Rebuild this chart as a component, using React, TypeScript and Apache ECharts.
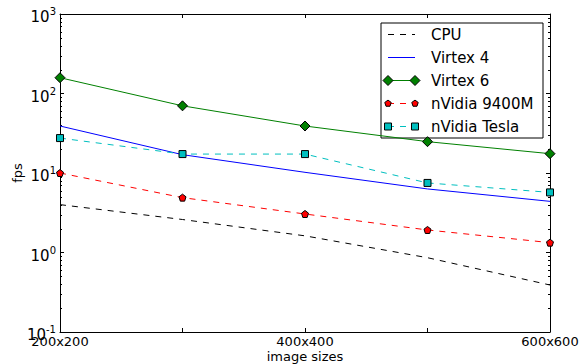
import React, { useEffect, useRef } from "react";
import * as echarts from "echarts";

const categories = ["200x200", "300x300", "400x400", "500x500", "600x600"];
const seriesNames = ["CPU", "Virtex 4", "Virtex 6", "nVidia 9400M", "nVidia Tesla"];
const cpu = [4.0, 2.6, 1.62, 0.86, 0.39];
const virtex4 = [39, 17, 10.2, 6.3, 4.4];
const virtex6 = [158, 70, 39, 24.8, 17.5];
const nvidia9400m = [10, 4.9, 3.05, 1.92, 1.33];
const nvidiaTesla = [27.5, 17.3, 17.3, 7.5, 5.7];
const decades = [0.1, 1, 10, 100];
const minorMultipliers = [2, 3, 4, 5, 6, 7, 8, 9];

const FONT = "DejaVu Sans";
const PENTAGON = "path://M0,-1 L0.951,-0.309 L0.588,0.809 L-0.588,0.809 L-0.951,-0.309 Z";

const colors = ["#000000", "#0000ff", "#008000", "#ff0000", "#00bfbf"];
const dashed = [true, false, false, true, true];

function legendMarker(i: number, cx: number, cy: number): any {
  const st = { fill: colors[i], stroke: "#000", lineWidth: 1 };
  if (i === 2) {
    const r = 5;
    return { type: "polygon", shape: { points: [[cx, cy - r], [cx + r, cy], [cx, cy + r], [cx - r, cy]] }, style: st };
  }
  if (i === 3) {
    const r = 3.4;
    const pts = [0, 1, 2, 3, 4].map((k) => {
      const a = -Math.PI / 2 + (k * 2 * Math.PI) / 5;
      return [cx + r * Math.cos(a), cy + r * Math.sin(a)];
    });
    return { type: "polygon", shape: { points: pts }, style: st };
  }
  if (i === 4) {
    return { type: "rect", shape: { x: cx - 3.5, y: cy - 3.5, width: 7, height: 7 }, style: st };
  }
  return null;
}

export default function App() {
  const ref = useRef<HTMLDivElement>(null);
  useEffect(() => {
    if (!ref.current) return;
    const chart = echarts.init(ref.current, null, { renderer: "svg" });
    const minorVals: number[] = [];
    decades.forEach((d) => minorMultipliers.forEach((m) => minorVals.push(m * d)));

    const legendChildren: any[] = [
      { type: "rect", shape: { x: 381, y: 23, width: 162, height: 115 }, style: { fill: "#fff", stroke: "#000", lineWidth: 1 } },
    ];
    seriesNames.forEach((name, i) => {
      const cy = 34.5 + i * 23;
      legendChildren.push({
        type: "line",
        shape: { x1: 388, y1: cy, x2: 415, y2: cy },
        style: { stroke: colors[i], lineWidth: 1, lineDash: dashed[i] ? [6, 6] : null },
      });
      const m1 = legendMarker(i, 388, cy);
      const m2 = legendMarker(i, 415, cy);
      if (m1) legendChildren.push(m1, m2);
      legendChildren.push({
        type: "text",
        x: 431,
        y: cy,
        style: { text: name, font: `15px "${FONT}"`, fill: "#000", verticalAlign: "middle", align: "left" },
      });
    });

    const lineSeries = (name: string, data: number[], i: number, symbol: string, size: number | number[]) => ({
      name,
      type: "line",
      data,
      xAxisIndex: 0,
      yAxisIndex: 0,
      symbol,
      symbolSize: size,
      showSymbol: symbol !== "none",
      clip: true,
      lineStyle: { color: colors[i], width: 1, type: dashed[i] ? [6, 6] : "solid" },
      itemStyle: { color: colors[i], borderColor: "#000", borderWidth: 1 },
      z: 3,
    });

    const yBase = {
      type: "log",
      logBase: 10,
      min: 0.1,
      max: 1000,
      splitLine: { show: false },
      axisLine: { show: true, lineStyle: { color: "#000", width: 1 } },
      axisTick: { show: true, inside: true, length: 4, lineStyle: { color: "#000" } },
    };

    chart.setOption({
      animation: false,
      backgroundColor: "#fff",
      grid: { left: 60, right: 34, top: 14, bottom: 32, containLabel: false, outerBoundsMode: "none" },
      xAxis: [
        {
          type: "category",
          data: categories,
          boundaryGap: false,
          position: "bottom",
          axisLine: { show: true, lineStyle: { color: "#000", width: 1 } },
          axisTick: { show: true, inside: true, length: 4, interval: 0, lineStyle: { color: "#000" } },
          axisLabel: { interval: 1, color: "#000", fontSize: 13, fontFamily: FONT, margin: 3 },
          splitLine: { show: false },
          name: "image sizes",
          nameLocation: "middle",
          nameGap: 18,
          nameMoveOverlap: false,
          nameTextStyle: { color: "#000", fontSize: 13, fontFamily: FONT },
        },
        {
          type: "category",
          data: categories,
          boundaryGap: false,
          position: "top",
          axisLine: { show: true, lineStyle: { color: "#000", width: 1 } },
          axisTick: { show: true, inside: true, length: 4, interval: 0, lineStyle: { color: "#000" } },
          axisLabel: { show: false },
          splitLine: { show: false },
        },
      ],
      yAxis: [
        {
          ...yBase,
          position: "left",
          axisLabel: {
            color: "#000",
            margin: 4,
            padding: [6, 0, 0, 0],
            formatter: (v: number) => `{b|10}{s|${Math.round(Math.log10(v))}}`,
            rich: {
              b: { fontSize: 15, fontFamily: FONT, color: "#000" },
              s: { fontSize: 10, fontFamily: FONT, color: "#000", padding: [0, 0, 11, 0] },
            },
          },
          name: "fps",
          nameLocation: "middle",
          nameGap: 36,
          nameMoveOverlap: false,
          nameTextStyle: { color: "#000", fontSize: 13, fontFamily: FONT },
        },
        { ...yBase, position: "right", axisLabel: { show: false } },
      ],
      graphic: [{ type: "group", z: 100, children: legendChildren }],
      series: [
        lineSeries(seriesNames[0], cpu, 0, "none", 0),
        lineSeries(seriesNames[1], virtex4, 1, "none", 0),
        lineSeries(seriesNames[2], virtex6, 2, "diamond", 10),
        lineSeries(seriesNames[3], nvidia9400m, 3, PENTAGON, 7),
        lineSeries(seriesNames[4], nvidiaTesla, 4, "rect", 7),
        {
          type: "custom",
          silent: true,
          xAxisIndex: 0,
          yAxisIndex: 0,
          data: minorVals.map((v) => [0, v]),
          encode: { x: 0, y: 1 },
          renderItem: (params: any, api: any) => {
            const y = Math.round(api.coord([0, api.value(1)])[1]) + 0.5;
            const cs = params.coordSys;
            return {
              type: "group",
              children: [
                { type: "line", shape: { x1: cs.x, y1: y, x2: cs.x + 2, y2: y }, style: { stroke: "#000", lineWidth: 1 } },
                { type: "line", shape: { x1: cs.x + cs.width - 2, y1: y, x2: cs.x + cs.width, y2: y }, style: { stroke: "#000", lineWidth: 1 } },
              ],
            };
          },
          z: 2,
        },
      ],
    });
    return () => chart.dispose();
  }, []);
  return <div ref={ref} style={{ position: "fixed", left: 0, top: 0, width: 584, height: 364 }} />;
}
